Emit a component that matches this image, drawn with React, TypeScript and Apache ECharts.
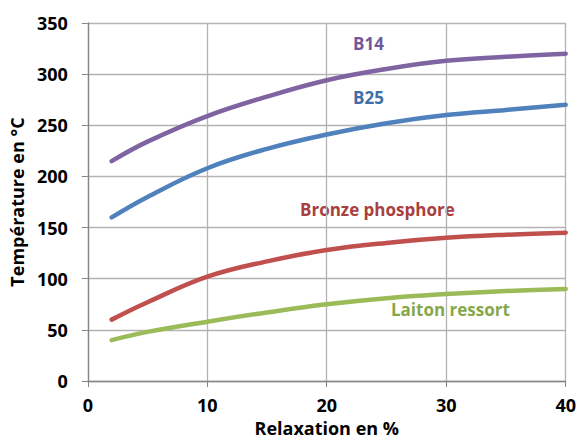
import React, { useEffect, useRef } from "react";
import * as echarts from "echarts";

const xValues = [2, 5, 10, 15, 20, 25, 30, 35, 40];
const b14 = [215, 234, 259, 278, 294, 305, 313, 317, 320];
const b25 = [160, 180, 208, 227, 241, 252, 260, 265, 270];
const bronze = [60, 77, 102, 117, 128, 135, 140, 143, 145];
const laiton = [40, 48, 58, 67, 75, 81, 85, 88, 90];

const seriesNames = ["B14", "B25", "Bronze phosphore", "Laiton ressort"];
const seriesColors = ["#8064A2", "#4F81BD", "#C0504D", "#9BBB59"];
const seriesData = [b14, b25, bronze, laiton];

const font = "'Open Sans', 'Liberation Sans', sans-serif";

export default function App() {
  const ref = useRef<HTMLDivElement>(null);
  useEffect(() => {
    if (!ref.current) return;
    const chart = echarts.init(ref.current, undefined, { renderer: "svg" });
    chart.setOption({
      animation: false,
      backgroundColor: "#ffffff",
      grid: { left: 85, right: 12, top: 23, bottom: 61, containLabel: false },
      xAxis: {
        type: "value",
        min: 0,
        max: 40,
        interval: 10,
        name: "Relaxation en %",
        nameLocation: "middle",
        nameGap: 38,
        nameTextStyle: { fontFamily: font, fontWeight: "bold", fontSize: 18, color: "#000" },
        axisLine: { show: true, lineStyle: { color: "#868686", width: 1.3 } },
        axisTick: { show: true, length: 6, lineStyle: { color: "#868686" } },
        axisLabel: { fontFamily: font, fontWeight: "bold", fontSize: 18, color: "#000", margin: 15 },
        splitLine: { show: true, lineStyle: { color: "#B3B3B3", width: 1.3 } },
      },
      yAxis: {
        type: "value",
        min: 0,
        max: 350,
        interval: 50,
        name: "Température en °C",
        nameLocation: "middle",
        nameGap: 54,
        nameTextStyle: { fontFamily: font, fontWeight: "bold", fontSize: 18, color: "#000" },
        axisLine: { show: true, lineStyle: { color: "#868686", width: 1.3 } },
        axisTick: { show: true, length: 6, lineStyle: { color: "#868686" } },
        axisLabel: { fontFamily: font, fontWeight: "bold", fontSize: 18, color: "#000", margin: 20 },
        splitLine: { show: true, lineStyle: { color: "#B3B3B3", width: 1.3 } },
      },
      series: seriesNames.map((name, i) => ({
        name,
        type: "line",
        smooth: 0.4,
        showSymbol: false,
        data: xValues.map((x, j) => [x, seriesData[i][j]]),
        lineStyle: { color: seriesColors[i], width: 4.5, cap: "round" },
        itemStyle: { color: seriesColors[i] },
      })),
      graphic: [
        { type: "text", left: 353, top: 35, style: { text: "B14", fill: "#71589A", font: `bold 17px ${font}` } },
        { type: "text", left: 353, top: 89, style: { text: "B25", fill: "#3E6FA8", font: `bold 17px ${font}` } },
        { type: "text", left: 300, top: 201, style: { text: "Bronze phosphore", fill: "#A8403D", font: `bold 17px ${font}` } },
        { type: "text", left: 391, top: 301, style: { text: "Laiton ressort", fill: "#86A84A", font: `bold 17px ${font}` } },
      ],
    });
    return () => chart.dispose();
  }, []);
  return (
    <div
      ref={ref}
      style={{ position: "fixed", left: 0, top: 0, width: 579, height: 442, overflow: "hidden" }}
    />
  );
}
